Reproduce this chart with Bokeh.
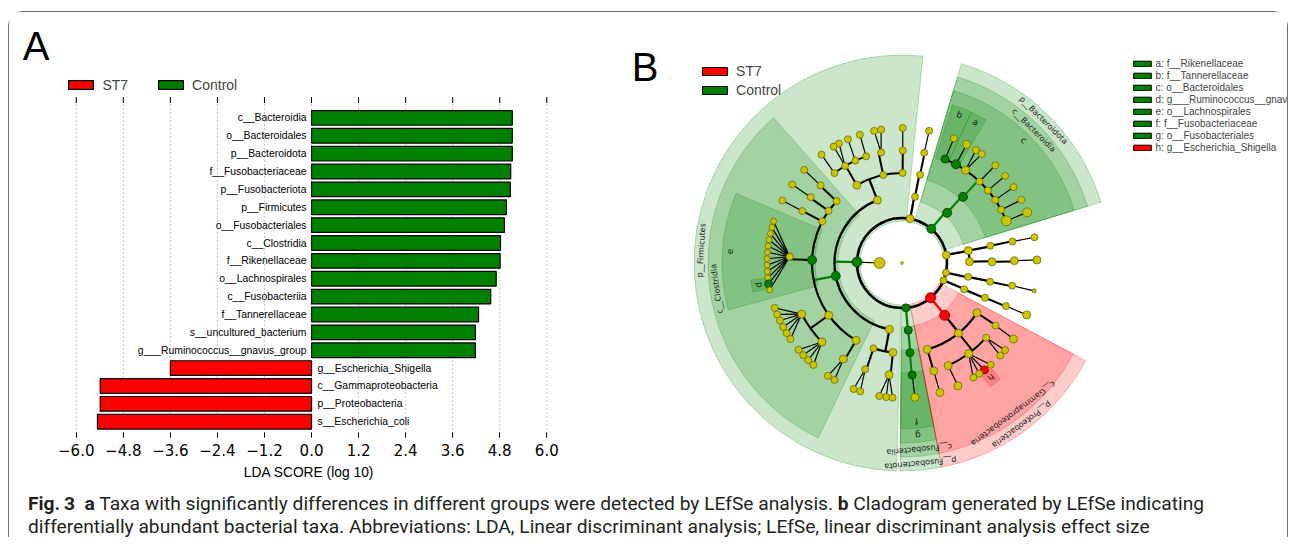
import numpy as np
from bokeh.plotting import figure
from bokeh.models import (ColumnDataSource, Range1d, FixedTicker,
                          CustomJSTickFormatter, Legend, LegendItem, Label, Div)
from bokeh.layouts import row, column
from bokeh.core.properties import value
from bokeh.embed import file_html
from bokeh.resources import INLINE

SANS = "Liberation Sans"
DEJAVU = "DejaVu Sans"

# ---------------- Panel A data ----------------
TAXA = ["c__Bacteroidia", "o__Bacteroidales", "p__Bacteroidota", "f__Fusobacteriaceae",
        "p__Fusobacteriota", "p__Firmicutes", "o__Fusobacteriales", "c__Clostridia",
        "f__Rikenellaceae", "o__Lachnospirales", "c__Fusobacteriia", "f__Tannerellaceae",
        "s__uncultured_bacterium", "g___Ruminococcus__gnavus_group",
        "g__Escherichia_Shigella", "c__Gammaproteobacteria", "p__Proteobacteria",
        "s__Escherichia_coli"]
LDA = [5.12, 5.12, 5.12, 5.08, 5.07, 4.97, 4.92, 4.82, 4.81, 4.71, 4.57, 4.26, 4.18, 4.18,
       -3.60, -5.39, -5.39, -5.46]
GROUPS = ["ST7", "Control"]
TICKS = [-6.0, -4.8, -3.6, -2.4, -1.2, 0.0, 1.2, 2.4, 3.6, 4.8, 6.0]
X_LABEL = "LDA SCORE (log 10)"

COL = {"C": "#008000", "S": "#ff0000", "": "#ccc600"}
EDGE = {"C": "#003a00", "S": "#700000", "": "#6e6a00"}

# ---------------- Panel B data (cladogram) ----------------
# phyla
P_ANG = [49.5, 79.5, 178.8, 275.0, 309.4, 337.3, 347.6, 10.3]
P_CLS = ["C", "", "C", "C", "S", "", "", ""]
P_SIZE = [9, 8, 10, 8, 10, 7, 7, 8]
ODD_ANG = 180.0           # inner node attached to p__Firmicutes
ODD_SIZE = 11
# classes (parent = phylum index)
C_PAR = [0, 1, 2, 2, 2, 3, 4, 5, 6, 7, 7]
C_ANG = [48.0, 78.9, 111.4, 191.0, 259.3, 275.3, 309.2, 337.0, 348.2, 10.6, 1.1]
C_CLS = ["C", "", "", "C", "", "C", "S", "", "", "", ""]
C_SIZE = [9, 7, 8, 9, 8, 8, 10, 7, 7, 8, 8]
# orders (parent = class index)
O_PAR = [0, 1, 2, 2, 2, 3, 3, 3, 3, 3, 3, 4, 4, 5, 6, 6, 6, 7, 8, 9, 10]
O_ANG = [47.3, 78.4, 89.6, 102.0, 120.1, 136.6, 144.6, 152.4, 178.1, 215.5, 239.3,
         251.5, 264.2, 275.0, 326.4, 308.8, 286.3, 337.3, 348.0, 11.1, 0.8]
O_CLS = ["C", "", "", "", "", "", "", "", "C", "", "", "", "", "C", "", "", "", "", "", "", ""]
O_SIZE = [9, 7, 7, 7, 8, 7, 7, 7, 9, 8, 8, 7, 8, 8, 8, 8, 8, 7, 7, 7, 8]
# families (parent = order index)
F_PAR = [0, 0, 0, 0, 0, 0, 0, 0, 1, 2, 3, 4, 4, 4, 4, 5, 6, 7, 8, 9, 9, 10, 11, 12, 13,
         14, 15, 15, 15, 16, 17, 18, 19, 20]
F_ANG = [67.5, 61.3, 55.6, 46.4, 40.2, 34.1, 28.2, 22.0, 78.6, 89.6, 100.7, 108.6, 114.5,
         120.4, 126.9, 136.4, 144.2, 152.5, 176.8, 207.0, 224.6, 238.6, 250.9, 263.4, 275.2,
         326.2, 318.4, 306.3, 294.2, 286.4, 337.5, 348.4, 11.0, 1.2]
F_CLS = ["C", "C", "", "", "", "", "", "", "", "", "", "", "", "", "", "", "", "", "", "", "",
         "", "", "", "C", "", "", "", "", "", "", "", "", ""]
F_SIZE = [8, 9, 8, 7, 7, 7, 7, 10, 7, 7, 7, 7, 7, 7, 7, 7, 7, 7, 7, 8, 8, 8, 7, 8, 8,
          7, 7, 8, 8, 8, 7, 7, 7, 8]
# genera (parent = family index)
G_PAR = [0, 1, 2, 2, 3, 4, 5, 6, 7, 8, 9, 10, 10, 11, 12, 13, 13, 14, 15, 16, 17,
         18, 18, 18, 18, 18, 18, 18, 18, 18, 18, 18, 18,
         19, 19, 19, 19, 19, 19,
         20, 20, 20, 20,
         21, 21,
         22, 22,
         23, 23, 23,
         24, 25, 26, 26, 27, 27, 27, 27, 28, 29, 30, 31, 32, 33]
G_ANG = [67.4, 61.4, 56.8, 53.8, 46.3, 40.2, 34.2, 27.9, 22.0, 78.4, 89.7, 98.9, 101.9,
         108.2, 113.6, 117.8, 120.4, 126.6, 136.4, 144.4, 152.4,
         162.0, 164.7, 167.4, 170.1, 172.8, 175.5, 178.2, 180.9, 183.6, 186.3, 188.9, 191.5,
         199.4, 202.4, 205.2, 208.3, 211.3, 214.3,
         220.0, 223.0, 226.0, 229.0,
         236.7, 240.0,
         249.0, 252.0,
         260.3, 263.3, 266.0,
         275.5, 325.7, 319.8, 316.7, 311.1, 307.6, 304.9, 301.9, 294.5, 286.3, 337.4, 348.1,
         11.0, 1.3]
G_CLS = [""] * 64
G_CLS[31] = "C"
G_CLS[55] = "S"
G_SIZE = [7, 8, 7, 7, 7, 7, 7, 7, 9, 7, 7, 7, 7, 7, 7, 7, 7, 7, 7, 7, 7,
          6, 6, 6, 6, 6, 6, 6, 6, 6, 6, 8, 6,
          7, 7, 7, 7, 7, 7,
          7, 7, 7, 7,
          7, 7,
          7, 7,
          7, 7, 7,
          8, 8, 7, 7, 7, 8, 7, 7, 8, 8, 8, 4, 7, 8]

# highlighted clades (wedges)
W_LABEL = ["p__Firmicutes", "c__Clostridia", "e", "d", "p__Bacteroidota", "c__Bacteroidia",
           "c", "b", "a", "p__Fusobacteriota", "c__Fusobacteriia", "g", "f",
           "p__Proteobacteria", "c__Gammaproteobacteria", "h"]
W_START = [84.2, 131.5, 157.3, 186.4, 17.0, 17.0, 17.0, 65.3, 59.6, 269.5, 269.5, 269.5,
           269.5, 281.0, 281.0, 305.5]
W_END = [268.5, 244.4, 195.1, 191.0, 73.4, 73.4, 73.4, 72.3, 65.3, 281.0, 281.0, 281.0,
         281.0, 332.0, 332.0, 310.3]
W_RIN = [42, 64, 87, 138, 42, 64, 87, 110, 110, 42, 64, 87, 110, 42, 64, 138]
W_ROUT = [208, 194, 180, 152, 208, 194, 180, 166, 166, 208, 194, 180, 166, 208, 194, 152]
W_CLS = ["C"] * 13 + ["S"] * 3

LEG_B = ["a: f__Rikenellaceae", "b: f__Tannerellaceae", "c: o__Bacteroidales",
         "d: g___Ruminococcus__gnavus_group", "e: o__Lachnospirales",
         "f: f__Fusobacteriaceae", "g: o__Fusobacteriales", "h: g__Escherichia_Shigella"]
LEG_B_CLS = ["C", "C", "C", "C", "C", "C", "C", "S"]

CAPTION_1 = ("<b>Fig.&#8201;3</b>&nbsp; <b>a</b> Taxa with significantly differences in different "
             "groups were detected by LEfSe analysis. <b>b</b> Cladogram generated by LEfSe indicating")
CAPTION_2 = ("differentially abundant bacterial taxa. Abbreviations: LDA, Linear discriminant "
             "analysis; LEfSe, linear discriminant analysis effect size")

# ---------------- Panel A ----------------
Y_TOP, Y_BOT = 18.164, -0.884      # extent of the bar area (tick rows)
n = len(TAXA)
ypos = [n - 1 - i for i in range(n)]
ip = [i for i in range(n) if LDA[i] > 0]
im = [i for i in range(n) if LDA[i] < 0]
src_p = ColumnDataSource(dict(y=[ypos[i] for i in ip], v=[LDA[i] for i in ip], t=[TAXA[i] for i in ip]))
src_m = ColumnDataSource(dict(y=[ypos[i] for i in im], v=[LDA[i] for i in im], t=[TAXA[i] for i in im]))

pa = figure(width=612, height=475, x_range=Range1d(-7.703, 7.574), y_range=Range1d(Y_BOT, 22.899),
            output_backend="svg", toolbar_location=None, y_axis_location=None,
            min_border_left=0, min_border_right=13, min_border_top=0, min_border_bottom=50)
pa.outline_line_color = None
pa.grid.visible = False
r_green = pa.hbar(y="y", left=0, right="v", height=0.82, source=src_p,
                  fill_color=COL["C"], line_color="black", line_width=1.2)
r_red = pa.hbar(y="y", left="v", right=0, height=0.82, source=src_m,
                fill_color=COL["S"], line_color="black", line_width=1.2)
pa.text(x=0, y="y", text="t", source=src_p, x_offset=-5, text_align="right",
        text_baseline="middle", text_font=value(SANS), text_font_size="10.4px", text_color="black")
pa.text(x=0, y="y", text="t", source=src_m, x_offset=6, text_align="left",
        text_baseline="middle", text_font=value(SANS), text_font_size="10.4px", text_color="black")
# dotted vertical grid and top tick marks at the tick positions
nt = len(TICKS)
pa.segment(x0=TICKS, y0=[Y_BOT] * nt, x1=TICKS, y1=[Y_TOP] * nt, line_color="#444444",
           line_alpha=0.6, line_dash="1 3", line_width=1)
pa.segment(x0=TICKS, y0=[Y_TOP] * nt, x1=TICKS, y1=[Y_TOP - 0.336] * nt, line_color="black",
           line_width=1)

xa = pa.xaxis[0]
xa.ticker = FixedTicker(ticks=TICKS)
xa.formatter = CustomJSTickFormatter(code="return tick.toFixed(1).replace('-', '\u2212');")
xa.major_tick_in = 5
xa.major_tick_out = 0
xa.minor_tick_in = 0
xa.minor_tick_out = 0
xa.axis_line_color = None
xa.major_tick_line_color = "black"
xa.major_label_text_font = DEJAVU
xa.major_label_text_font_size = "15px"
xa.major_label_text_color = "black"
xa.major_label_standoff = 6
xa.axis_label = X_LABEL
xa.axis_label_text_font = SANS
xa.axis_label_text_font_size = "13.8px"
xa.axis_label_text_font_style = "normal"
xa.axis_label_text_color = "black"
xa.axis_label_standoff = 6

leg_a = Legend(items=[LegendItem(label=GROUPS[0], renderers=[r_red]),
                      LegendItem(label=GROUPS[1], renderers=[r_green])],
               orientation="horizontal", location=(56.4, 344.3), glyph_width=31, glyph_height=11,
               label_standoff=6, spacing=27, padding=0, margin=0, border_line_color=None,
               background_fill_alpha=0, label_text_font=SANS, label_text_font_size="14px",
               label_text_baseline="bottom", label_height=11)
pa.add_layout(leg_a)
pa.add_layout(Label(x=-7.366, y=21.05, text="A", text_font=SANS, text_font_size="40px",
                    text_baseline="alphabetic", text_color="black"))

# ---------------- Panel B ----------------
pb = figure(width=666, height=475, x_range=Range1d(-280.5, 385.5), y_range=Range1d(-224.5, 250.5),
            output_backend="svg", toolbar_location=None, x_axis_location=None,
            y_axis_location=None, min_border=0,
            min_border_left=0, min_border_right=0, min_border_top=0, min_border_bottom=0)
pb.grid.visible = False
pb.outline_line_color = None
for _p in (pa, pb):
    if "frame_align" in _p.properties():
        _p.frame_align = False

R_P, R_C, R_O, R_F, R_G, R_ODD = 45.0, 67.5, 90.0, 112.5, 135.0, 22.5


def polar(r, deg):
    t = np.deg2rad(np.asarray(deg, dtype=float))
    rr = np.asarray(r, dtype=float)
    return (rr * np.cos(t)).tolist(), (rr * np.sin(t)).tolist()


ws = ColumnDataSource(dict(s=np.deg2rad(W_START).tolist(), e=np.deg2rad(W_END).tolist(),
                           ri=W_RIN, ro=W_ROUT, c=[COL[k] for k in W_CLS]))
pb.annular_wedge(x=0, y=0, inner_radius="ri", outer_radius="ro", start_angle="s", end_angle="e",
                 fill_color="c", fill_alpha=0.2, line_color="c", line_alpha=0.3, line_width=0.8,
                 source=ws)

arcs = dict(r=[], s=[], e=[], w=[], c=[])
segs = dict(x0=[], y0=[], x1=[], y1=[], w=[], c=[])


def add_seg(r0, a0, r1, a1, w, c):
    (x0,), (y0,) = polar([r0], [a0])
    (x1,), (y1,) = polar([r1], [a1])
    segs["x0"].append(x0); segs["y0"].append(y0)
    segs["x1"].append(x1); segs["y1"].append(y1)
    segs["w"].append(w); segs["c"].append(c)


def link(par_ang, par_cls, ch_par, ch_ang, ch_cls, r0, r1, w):
    for p in sorted(set(ch_par)):
        kids = [i for i, q in enumerate(ch_par) if q == p]
        angs = [ch_ang[i] for i in kids] + [par_ang[p]]
        if max(angs) - min(angs) > 0.05:
            arcs["r"].append(r1); arcs["s"].append(float(np.deg2rad(min(angs))))
            arcs["e"].append(float(np.deg2rad(max(angs)))); arcs["w"].append(w); arcs["c"].append("black")
        pc = par_cls[p]
        col = COL[pc] if pc and any(ch_cls[i] == pc for i in kids) else "black"
        add_seg(r0, par_ang[p], r1, par_ang[p], w, col)


arcs["r"].append(R_P); arcs["s"].append(0.0); arcs["e"].append(float(2 * np.pi))
arcs["w"].append(2.6); arcs["c"].append("black")
link(P_ANG, P_CLS, C_PAR, C_ANG, C_CLS, R_P, R_C, 2.3)
link(C_ANG, C_CLS, O_PAR, O_ANG, O_CLS, R_C, R_O, 2.2)
link(O_ANG, O_CLS, F_PAR, F_ANG, F_CLS, R_O, R_F, 2.0)
for gi, fp in enumerate(G_PAR):
    add_seg(R_F, F_ANG[fp], R_G, G_ANG[gi], 1.2, "black")
add_seg(R_P, P_ANG[2], R_ODD, ODD_ANG, 1.2, "black")

pb.segment(x0="x0", y0="y0", x1="x1", y1="y1", line_width="w", line_color="c",
           source=ColumnDataSource(segs))
pb.arc(x=0, y=0, radius="r", start_angle="s", end_angle="e", line_width="w", line_color="c",
       source=ColumnDataSource(arcs))

nx, ny, ns, nf, nl = [], [], [], [], []
for r, angs, cls, sizes in [(R_ODD, [ODD_ANG], [""], [ODD_SIZE]),
                            (R_P, P_ANG, P_CLS, P_SIZE), (R_C, C_ANG, C_CLS, C_SIZE),
                            (R_O, O_ANG, O_CLS, O_SIZE), (R_F, F_ANG, F_CLS, F_SIZE),
                            (R_G, G_ANG, G_CLS, G_SIZE)]:
    xs, ys = polar([r] * len(angs), angs)
    nx += xs; ny += ys; ns += list(sizes)
    nf += [COL[k] for k in cls]; nl += [EDGE[k] for k in cls]
pb.scatter(x="x", y="y", size="s", fill_color="f", line_color="l", line_width=0.8,
           source=ColumnDataSource(dict(x=nx, y=ny, s=ns, f=nf, l=nl)))
pb.scatter(x=[0], y=[0], size=3, fill_color=COL[""], line_color=EDGE[""], line_width=0.5)

mid = [(a + b) / 2 for a, b in zip(W_START, W_END)]
lr = [ro - 7 for ro in W_ROUT]
lx, ly = polar(lr, mid)
pb.text(x="x", y="y", text="t", angle="a", text_font_size="fs",
        source=ColumnDataSource(dict(x=lx, y=ly, t=W_LABEL,
                                     a=np.deg2rad(np.array(mid) - 90).tolist(),
                                     fs=["8px" if len(t) > 1 else "9px" for t in W_LABEL])),
        text_align="center", text_baseline="middle", text_font=value(DEJAVU), text_color="#1a1a1a")

# legend-only swatch renderers (a single zero-size bar each, nothing visible is drawn)
sw_src = ColumnDataSource(dict(y=[0.0], l=[0.0], r=[0.0]))
rb_red = pb.hbar(y="y", left="l", right="r", height=0, source=sw_src, fill_color=COL["S"],
                 line_color="black", line_width=1)
rb_green = pb.hbar(y="y", left="l", right="r", height=0, source=sw_src, fill_color=COL["C"],
                   line_color="black", line_width=1)
leg_b1 = Legend(items=[LegendItem(label=GROUPS[0], renderers=[rb_red]),
                       LegendItem(label=GROUPS[1], renderers=[rb_green])],
                location=(78.1, 388.9), glyph_width=31, glyph_height=10, label_standoff=6,
                spacing=3, padding=0, margin=0, border_line_color=None, background_fill_alpha=0,
                label_text_font=SANS, label_text_font_size="14px",
                label_text_baseline="middle", label_height=10)
pb.add_layout(leg_b1)
leg_b2 = Legend(items=[LegendItem(label=t, renderers=[rb_red if k == "S" else rb_green])
                       for t, k in zip(LEG_B, LEG_B_CLS)],
                location=(509.6, 333.6), glyph_width=22, glyph_height=7, label_standoff=3,
                spacing=1, padding=0, margin=0, border_line_color=None, background_fill_alpha=0,
                label_text_font=SANS, label_text_font_size="10px",
                label_text_baseline="alphabetic", label_height=10)
pb.add_layout(leg_b2)
pb.add_layout(Label(x=-270.3, y=195.7, text="B", text_font=SANS, text_font_size="40px",
                    text_baseline="alphabetic", text_color="black"))

# ---------------- caption ----------------
cap_html = ('<div style="font-family:Roboto;font-size:19.2px;line-height:23px;color:#231f20;'
            'white-space:nowrap;padding:5px 0 0 19px">' + CAPTION_1 + '<br>' + CAPTION_2 + '</div>')
cap = Div(text=cap_html, width=1278, height=50, margin=(0, 0, 0, 0))

layout = column(row(pa, pb), cap,
                styles={"border": "1.5px solid #6d6e71", "border-bottom": "none",
                        "border-radius": "16px 16px 0 0", "margin-top": "11px",
                        "margin-left": "8px"})
open("out.html", "w").write(file_html(layout, INLINE))
